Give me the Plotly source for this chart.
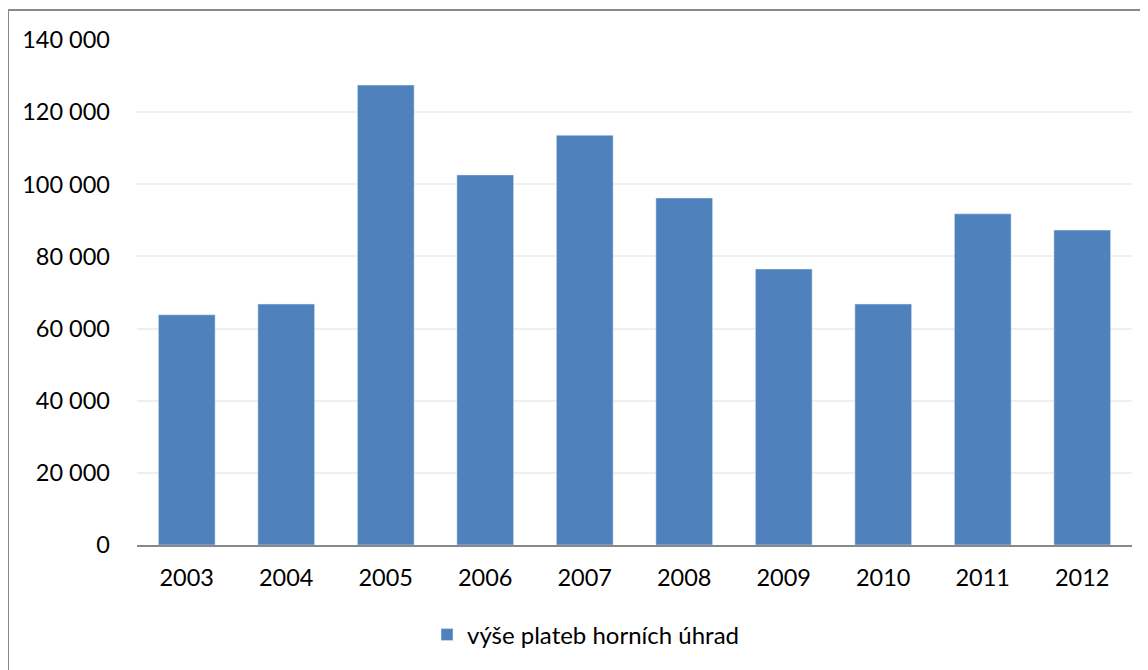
import plotly.graph_objects as go

years = ["2003", "2004", "2005", "2006", "2007", "2008", "2009", "2010", "2011", "2012"]
platby = [63800, 66800, 127500, 102600, 113600, 96200, 76500, 66800, 91800, 87300]
series_name = "výše plateb horních úhrad"
tick_vals = [0, 20000, 40000, 60000, 80000, 100000, 120000, 140000]
tick_text = ["0", "20 000", "40 000", "60 000", "80 000", "100 000", "120 000", "140 000"]

# page body has an 8px margin, so the figure is drawn 8px smaller and offset
OFF = 8
W, H = 1148 - OFF, 670 - OFF
L, R, T, B = 137 - OFF, 16, 40 - OFF, 125
pw, ph = W - L - R, H - T - B


def px(x):
    return (x - OFF - L) / pw


def py(y):
    return (H - B - (y - OFF)) / ph


fig = go.Figure(
    go.Bar(x=years, y=platby, name=series_name, marker_color="#4F81BD", showlegend=True)
)

fig.update_layout(
    width=W,
    height=H,
    margin=dict(l=L, r=R, t=T, b=B),
    paper_bgcolor="white",
    plot_bgcolor="white",
    bargap=0.43,
    font=dict(family="Lato, Open Sans, sans-serif", size=23.5, color="#000000"),
    legend=dict(
        orientation="h",
        x=px(586),
        xanchor="center",
        y=py(635),
        yanchor="middle",
        font=dict(size=24),
    ),
    shapes=[
        dict(
            type="rect",
            xref="paper",
            yref="paper",
            x0=px(8),
            x1=px(1170),
            y0=py(700),
            y1=py(10),
            line=dict(color="#888888", width=2),
            fillcolor="rgba(0,0,0,0)",
            layer="below",
        )
    ],
)

fig.update_xaxes(
    showline=True,
    linecolor="#888888",
    linewidth=1.5,
    ticks="",
    ticklabelstandoff=11,
)
fig.update_yaxes(
    range=[0, 140000],
    tickvals=tick_vals,
    ticktext=tick_text,
    showgrid=True,
    gridcolor="#EFEFEF",
    gridwidth=1.5,
    zeroline=False,
    ticklabelstandoff=26,
)

fig.write_html("out.html")
